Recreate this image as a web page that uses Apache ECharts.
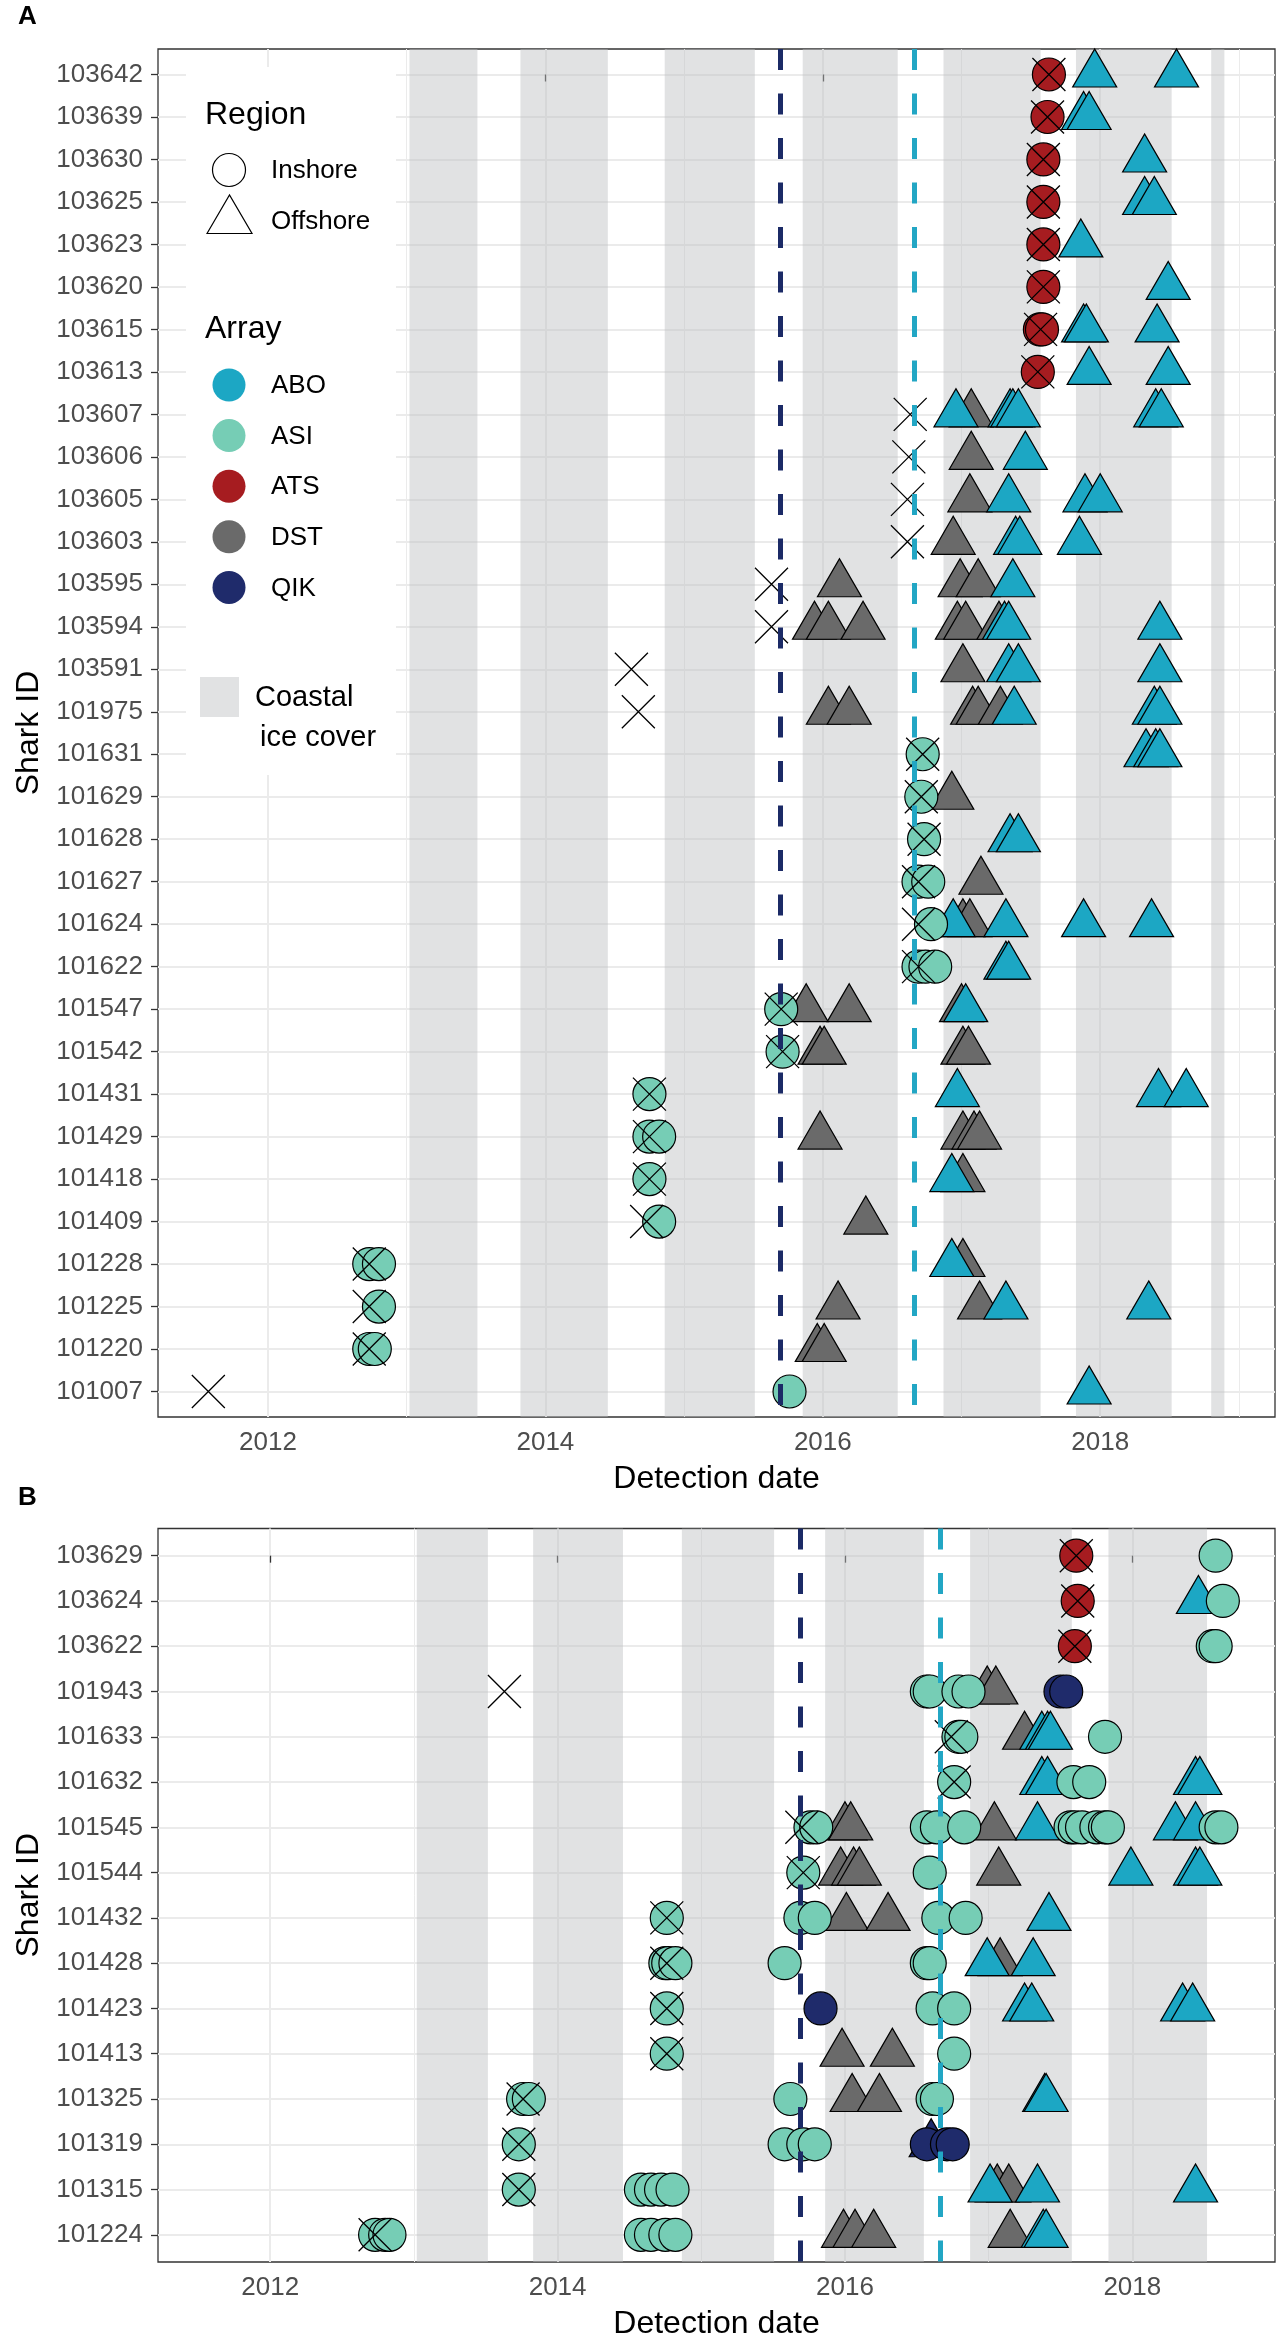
<!DOCTYPE html>
<html>
<head>
<meta charset="utf-8">
<title>Shark detections</title>
<script src="https://cdn.jsdelivr.net/npm/echarts@6.0.0/dist/echarts.min.js"></script>
<style>
  html, body { margin: 0; padding: 0; background: #fff; }
  #main { width: 1277px; height: 2348px; }
</style>
</head>
<body>
<div id="main"></div>
<script type="text/javascript">
    // shark IDs, top to bottom
    var idsA = ['103642','103639','103630','103625','103623','103620','103615','103613',
        '103607','103606','103605','103603','103595','103594','103591','101975',
        '101631','101629','101628','101627','101624','101622','101547','101542',
        '101431','101429','101418','101409','101228','101225','101220','101007'];
    var idsB = ['103629','103624','103622','101943','101633','101632','101545','101544',
        '101432','101428','101423','101413','101325','101319','101315','101224'];

    var yearTicks = [2012, 2014, 2016, 2018];

    // coastal ice cover periods (decimal years)
    var iceA = [[2013.02, 2013.51], [2013.82, 2014.45], [2014.86, 2015.51], [2015.855, 2016.54],
        [2016.87, 2017.57], [2017.825, 2018.515], [2018.80, 2018.895]];
    var iceB = [[2013.02, 2013.515], [2013.83, 2014.455], [2014.865, 2015.507], [2015.862, 2016.549],
        [2016.871, 2017.579], [2017.834, 2018.52]];

    // dashed reference dates
    var dashDates = [2015.69, 2016.66];

    // detections: [shark ID, date, date, ...]
    // panel A
    var aAbo = [
        ['103642', 2017.96, 2018.55], ['103639', 2017.88, 2017.92], ['103630', 2018.32],
        ['103625', 2018.32, 2018.39], ['103623', 2017.86], ['103620', 2018.49],
        ['103615', 2017.88, 2017.90, 2018.41], ['103613', 2017.92, 2018.49],
        ['103607', 2016.96, 2017.35, 2017.37, 2017.41, 2018.40, 2018.44], ['103606', 2017.46],
        ['103605', 2017.34, 2017.89, 2018.00], ['103603', 2017.39, 2017.42, 2017.85],
        ['103595', 2017.37], ['103594', 2017.31, 2017.34, 2018.43], ['103591', 2017.34, 2017.41, 2018.43],
        ['101975', 2017.38, 2018.39, 2018.43], ['101631', 2018.33, 2018.40, 2018.43],
        ['101628', 2017.35, 2017.41], ['101624', 2016.94, 2017.32, 2017.88, 2018.37],
        ['101622', 2017.32, 2017.34], ['101547', 2017.03], ['101431', 2016.97, 2018.42, 2018.62],
        ['101418', 2016.93], ['101228', 2016.93], ['101225', 2017.32, 2018.35], ['101007', 2017.92]
    ];
    var aDst = [
        ['103607', 2017.07], ['103606', 2017.07], ['103605', 2017.06], ['103603', 2016.94],
        ['103595', 2016.12, 2016.99, 2017.12], ['103594', 2015.94, 2016.04, 2016.29, 2016.97, 2017.03, 2017.27],
        ['103591', 2017.01], ['101975', 2016.04, 2016.19, 2017.08, 2017.12, 2017.28],
        ['101629', 2016.93], ['101627', 2017.14], ['101624', 2017.01, 2017.06],
        ['101547', 2015.88, 2016.19, 2017.00], ['101542', 2015.98, 2016.01, 2017.01, 2017.05],
        ['101429', 2015.98, 2017.01, 2017.09, 2017.13], ['101418', 2017.01], ['101409', 2016.31],
        ['101228', 2017.01], ['101225', 2016.11, 2017.13], ['101220', 2015.96, 2016.01]
    ];
    var aAts = [
        ['103642', 2017.63], ['103639', 2017.62], ['103630', 2017.59], ['103625', 2017.59],
        ['103623', 2017.59], ['103620', 2017.59], ['103615', 2017.565, 2017.58], ['103613', 2017.55]
    ];
    var aAsi = [
        ['101631', 2016.72], ['101629', 2016.71], ['101628', 2016.73], ['101627', 2016.69, 2016.76],
        ['101624', 2016.78], ['101622', 2016.69, 2016.74, 2016.81], ['101547', 2015.70],
        ['101542', 2015.71], ['101431', 2014.75], ['101429', 2014.75, 2014.82], ['101418', 2014.75],
        ['101409', 2014.82], ['101228', 2012.73, 2012.80], ['101225', 2012.80],
        ['101220', 2012.73, 2012.77], ['101007', 2015.76]
    ];
    var aTag = [
        ['103642', 2017.63], ['103639', 2017.62], ['103630', 2017.59], ['103625', 2017.59],
        ['103623', 2017.59], ['103620', 2017.59], ['103615', 2017.57], ['103613', 2017.55],
        ['103607', 2016.63], ['103606', 2016.62], ['103605', 2016.61], ['103603', 2016.61],
        ['103595', 2015.63], ['103594', 2015.63], ['103591', 2014.62], ['101975', 2014.67],
        ['101631', 2016.72], ['101629', 2016.71], ['101628', 2016.73], ['101627', 2016.69],
        ['101624', 2016.69], ['101622', 2016.69], ['101547', 2015.70], ['101542', 2015.71],
        ['101431', 2014.75], ['101429', 2014.75], ['101418', 2014.75], ['101409', 2014.73],
        ['101228', 2012.73], ['101225', 2012.73], ['101220', 2012.73], ['101007', 2011.57]
    ];

    // panel B
    var bAsi = [
        ['103629', 2018.58], ['103624', 2018.63], ['103622', 2018.56, 2018.58],
        ['101943', 2016.57, 2016.59, 2016.79, 2016.86], ['101633', 2016.79, 2016.81, 2017.81],
        ['101632', 2016.76, 2017.59, 2017.70],
        ['101545', 2015.76, 2015.80, 2016.57, 2016.64, 2016.83, 2017.57, 2017.60, 2017.65, 2017.75, 2017.81, 2017.83, 2018.58, 2018.62],
        ['101544', 2015.71, 2016.59], ['101432', 2014.76, 2015.69, 2015.79, 2016.65, 2016.84],
        ['101428', 2014.75, 2014.77, 2014.82, 2015.58, 2016.57, 2016.59],
        ['101423', 2014.76, 2016.61, 2016.76], ['101413', 2014.76, 2016.76],
        ['101325', 2013.76, 2013.80, 2015.62, 2016.61, 2016.64],
        ['101319', 2013.73, 2015.58, 2015.71, 2015.79],
        ['101315', 2013.73, 2014.58, 2014.65, 2014.72, 2014.80],
        ['101224', 2012.73, 2012.80, 2012.83, 2014.58, 2014.65, 2014.75, 2014.82]
    ];
    var bAbo = [
        ['103624', 2018.46], ['101633', 2017.37, 2017.41, 2017.43],
        ['101632', 2017.37, 2017.41, 2018.44, 2018.47], ['101545', 2017.34, 2018.30, 2018.44],
        ['101544', 2017.99, 2018.44, 2018.47], ['101432', 2017.42], ['101428', 2016.99, 2017.31],
        ['101423', 2017.25, 2017.30, 2018.35, 2018.42], ['101325', 2017.39, 2017.40],
        ['101315', 2017.01, 2017.34, 2018.44], ['101224', 2017.38, 2017.40]
    ];
    var bDst = [
        ['101943', 2016.99, 2017.05], ['101633', 2017.25], ['101545', 2016.00, 2016.04, 2017.04],
        ['101544', 2015.97, 2016.06, 2016.10, 2017.07], ['101432', 2016.01, 2016.30],
        ['101428', 2017.08], ['101413', 2015.98, 2016.33], ['101325', 2016.05, 2016.24],
        ['101315', 2017.06, 2017.14], ['101224', 2015.99, 2016.07, 2016.20, 2017.15]
    ];
    var bAts = [['103629', 2017.61], ['103624', 2017.62], ['103622', 2017.60]];
    var bQik = [['101943', 2017.50, 2017.54], ['101423', 2015.83], ['101319', 2016.57, 2016.71, 2016.75]];
    var bQikOff = [['101319', 2016.60]];
    var bTag = [
        ['103629', 2017.61], ['103624', 2017.62], ['103622', 2017.60], ['101943', 2013.63],
        ['101633', 2016.74], ['101632', 2016.76], ['101545', 2015.70], ['101544', 2015.71],
        ['101432', 2014.76], ['101428', 2014.76], ['101423', 2014.76], ['101413', 2014.76],
        ['101325', 2013.76], ['101319', 2013.73], ['101315', 2013.73], ['101224', 2012.73]
    ];

    var colors = { ABO: '#1ca7c4', ASI: '#76cdb5', ATS: '#a61c20', DST: '#6a6a6a', QIK: '#1f2b6b' };
    var iceColor = 'rgba(188,191,194,0.45)';
    var font = "'Liberation Sans', Arial, sans-serif";

    // [id, d1, d2, ...] -> [[date, rowIndex], ...]
    function toPoints(list, ids) {
        var out = [];
        list.forEach(function (row) {
            var yi = ids.indexOf(row[0]);
            for (var k = 1; k < row.length; k++) out.push([row[k], yi]);
        });
        return out;
    }
    function rowIndex(ids) { return ids.map(function (d, i) { return i; }); }

    function markSeries(gi, list, ids, shape, color, z) {
        var tri = shape === 'tri';
        return {
            type: 'scatter', xAxisIndex: gi, yAxisIndex: gi, z: z, silent: true,
            symbol: tri ? 'triangle' : 'circle',
            symbolSize: tri ? [44, 38] : 33,
            symbolOffset: tri ? [0, -6.5] : [0, 0],
            itemStyle: { color: color, borderColor: '#000', borderWidth: 1.2, opacity: 1 },
            emphasis: { disabled: true },
            data: toPoints(list, ids)
        };
    }
    function tagSeries(gi, list, ids) {
        return {
            type: 'scatter', xAxisIndex: gi, yAxisIndex: gi, z: 4, silent: true,
            symbol: 'path://M0 0L10 10M10 0L0 10', symbolSize: 33,
            itemStyle: { color: 'rgba(0,0,0,0)', borderColor: '#000', borderWidth: 1.3, opacity: 1 },
            emphasis: { disabled: true },
            data: toPoints(list, ids)
        };
    }
    function iceSeries(gi, bands) {
        return {
            type: 'scatter', xAxisIndex: gi, yAxisIndex: gi, z: 1, data: [], silent: true,
            markArea: {
                silent: true, itemStyle: { color: iceColor },
                data: bands.map(function (b) { return [{ xAxis: b[0] }, { xAxis: b[1] }]; })
            }
        };
    }
    function dashSeries(gi) {
        var dash = [21, 23.5];
        return {
            type: 'scatter', xAxisIndex: gi, yAxisIndex: gi, z: 5, data: [], silent: true,
            markLine: {
                silent: true, symbol: ['none', 'none'], label: { show: false },
                emphasis: { disabled: true },
                data: [
                    { xAxis: dashDates[0], lineStyle: { color: '#1b2a66', width: 5, type: dash } },
                    { xAxis: dashDates[1], lineStyle: { color: '#22a6c4', width: 5, type: dash } }
                ]
            }
        };
    }

    function xAxisFor(gi, min, max) {
        return {
            gridIndex: gi, type: 'value', min: min, max: max, splitNumber: 4,
            name: 'Detection date', nameLocation: 'middle', nameGap: 46,
            nameTextStyle: { fontSize: 32, color: '#000', fontFamily: font },
            axisLine: { show: false },
            axisTick: { show: true, customValues: yearTicks, length: 7, lineStyle: { color: '#333', width: 1.3 } },
            axisLabel: { customValues: yearTicks, fontSize: 26, color: '#4d4d4d', fontFamily: font, margin: 13,
                formatter: function (v) { return String(v); } },
            splitLine: { show: true, lineStyle: { color: '#ebebeb', width: 2 } },
            minorTick: { show: false, splitNumber: 2 },
            minorSplitLine: { show: true, lineStyle: { color: '#ebebeb', width: 1 } }
        };
    }
    function yAxisFor(gi, ids) {
        var rows = rowIndex(ids);
        return {
            gridIndex: gi, type: 'value', min: -0.6, max: ids.length - 0.4, inverse: true,
            name: 'Shark ID', nameLocation: 'middle', nameGap: 113, nameRotate: 90,
            nameTextStyle: { fontSize: 32, color: '#000', fontFamily: font },
            axisLine: { show: false },
            axisTick: { show: true, customValues: rows, length: 7, lineStyle: { color: '#333', width: 1.3 } },
            axisLabel: { customValues: rows, fontSize: 26, color: '#4d4d4d', fontFamily: font, margin: 15,
                formatter: function (v) { return ids[Math.round(v)]; } },
            splitLine: { show: true, lineStyle: { color: '#ebebeb', width: 2 } }
        };
    }

    // legend (panel A, inside the plot)
    var legendItems = [
        { type: 'rect', shape: { x: 186, y: 67, width: 210, height: 708 }, style: { fill: '#fff' }, z: 10 },
        { type: 'text', x: 205, y: 115, style: { text: 'Region', font: '32px ' + font, fill: '#000', verticalAlign: 'middle' }, z: 11 },
        { type: 'circle', shape: { cx: 229, cy: 170, r: 16.5 }, style: { fill: '#fff', stroke: '#000', lineWidth: 1.2 }, z: 11 },
        { type: 'text', x: 271, y: 171, style: { text: 'Inshore', font: '26px ' + font, fill: '#000', verticalAlign: 'middle' }, z: 11 },
        { type: 'polygon', shape: { points: [[207, 233.5], [229.5, 195], [252, 233.5]] }, style: { fill: '#fff', stroke: '#000', lineWidth: 1.2 }, z: 11 },
        { type: 'text', x: 271, y: 222, style: { text: 'Offshore', font: '26px ' + font, fill: '#000', verticalAlign: 'middle' }, z: 11 },
        { type: 'text', x: 205, y: 329, style: { text: 'Array', font: '32px ' + font, fill: '#000', verticalAlign: 'middle' }, z: 11 },
        { type: 'rect', shape: { x: 200, y: 677, width: 39, height: 40 }, style: { fill: '#e1e2e3' }, z: 11 },
        { type: 'text', x: 255, y: 698, style: { text: 'Coastal', font: '29px ' + font, fill: '#000', verticalAlign: 'middle' }, z: 11 },
        { type: 'text', x: 260, y: 738, style: { text: 'ice cover', font: '29px ' + font, fill: '#000', verticalAlign: 'middle' }, z: 11 },
        { type: 'text', x: 18, y: 17, style: { text: 'A', font: 'bold 26px ' + font, fill: '#000', verticalAlign: 'middle' }, z: 11 },
        { type: 'text', x: 18, y: 1498, style: { text: 'B', font: 'bold 26px ' + font, fill: '#000', verticalAlign: 'middle' }, z: 11 }
    ];
    ['ABO', 'ASI', 'ATS', 'DST', 'QIK'].forEach(function (name, i) {
        var cy = 385 + i * 50.6;
        legendItems.push({ type: 'circle', shape: { cx: 229, cy: cy, r: 16.5 }, style: { fill: colors[name] }, z: 11 });
        legendItems.push({ type: 'text', x: 271, y: cy + 1, style: { text: name, font: '26px ' + font, fill: '#000', verticalAlign: 'middle' }, z: 11 });
    });

    var myChart = echarts.init(document.getElementById('main'), null, { renderer: 'canvas' });
    var option = {
        backgroundColor: '#fff',
        animation: false,
        textStyle: { fontFamily: font },
        grid: [
            { left: 158, top: 49, width: 1117, height: 1368, show: true, borderColor: '#333', borderWidth: 1.3,
              backgroundColor: 'rgba(0,0,0,0)', outerBoundsMode: 'none', containLabel: false },
            { left: 158, top: 1528.5, width: 1117, height: 733.5, show: true, borderColor: '#333', borderWidth: 1.3,
              backgroundColor: 'rgba(0,0,0,0)', outerBoundsMode: 'none', containLabel: false }
        ],
        xAxis: [xAxisFor(0, 2011.207, 2019.26), xAxisFor(1, 2011.219, 2018.993)],
        yAxis: [yAxisFor(0, idsA), yAxisFor(1, idsB)],
        graphic: legendItems,
        series: [
            iceSeries(0, iceA),
            markSeries(0, aDst, idsA, 'tri', colors.DST, 2),
            markSeries(0, aAbo, idsA, 'tri', colors.ABO, 2),
            markSeries(0, aAsi, idsA, 'circle', colors.ASI, 3),
            markSeries(0, aAts, idsA, 'circle', colors.ATS, 3),
            tagSeries(0, aTag, idsA),
            dashSeries(0),

            iceSeries(1, iceB),
            markSeries(1, bDst, idsB, 'tri', colors.DST, 2),
            markSeries(1, bAbo, idsB, 'tri', colors.ABO, 2),
            markSeries(1, bQikOff, idsB, 'tri', colors.QIK, 2),
            markSeries(1, bAsi, idsB, 'circle', colors.ASI, 3),
            markSeries(1, bAts, idsB, 'circle', colors.ATS, 3),
            markSeries(1, bQik, idsB, 'circle', colors.QIK, 3),
            tagSeries(1, bTag, idsB),
            dashSeries(1)
        ]
    };
    myChart.setOption(option);
</script>
</body>
</html>
